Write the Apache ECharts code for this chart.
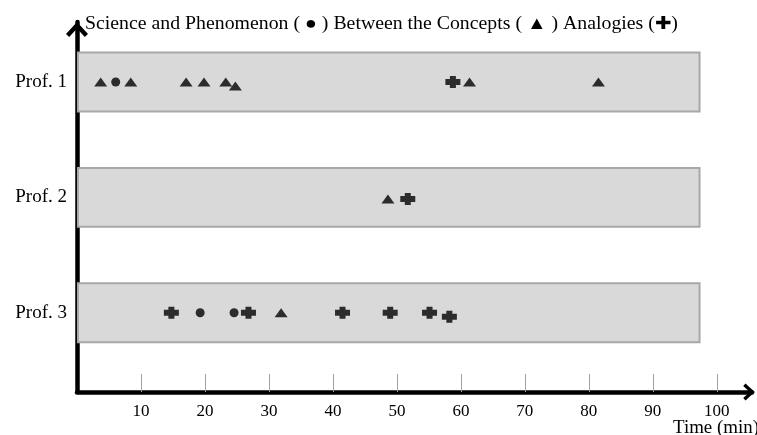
<!DOCTYPE html>
<html>
<head>
<meta charset="utf-8">
<script src="https://cdn.jsdelivr.net/npm/echarts@6/dist/echarts.min.js"></script>
<style>html,body{margin:0;padding:0;background:#fff}#c{width:757px;height:435px}</style>
</head>
<body>
<div id="c"></div>
<script>
// ---- data ----
const rows = ['Prof. 1', 'Prof. 2', 'Prof. 3'];
const rowValues = [3, 2, 1];
const sessionEnd = [97.3, 97.3, 97.3];
const xTicks = [10, 20, 30, 40, 50, 60, 70, 80, 90, 100];
// [time (min), professor, lane shift]
const science = [[6.05, 'Prof. 1', 0], [19.25, 'Prof. 3', 0], [24.55, 'Prof. 3', 0]];
const concepts = [[3.7, 'Prof. 1', 0], [8.4, 'Prof. 1', 0], [17.05, 'Prof. 1', 0], [19.85, 'Prof. 1', 0],
  [23.25, 'Prof. 1', 0], [24.75, 'Prof. 1', -0.035], [61.35, 'Prof. 1', 0], [81.5, 'Prof. 1', 0],
  [48.6, 'Prof. 2', -0.015], [31.9, 'Prof. 3', 0]];
const analogies = [[58.75, 'Prof. 1', 0], [51.7, 'Prof. 2', -0.015], [14.75, 'Prof. 3', 0], [26.8, 'Prof. 3', 0],
  [41.5, 'Prof. 3', 0], [48.95, 'Prof. 3', 0], [55.1, 'Prof. 3', 0], [58.2, 'Prof. 3', -0.035]];
const legendText = 'Science and Phenomenon ( \u25CF ) Between the Concepts ( \u25B2 ) Analogies (\u271A)';
const xName = 'Time (min)';

// ---- chart ----
const rowPos = {};
rows.forEach((r, i) => rowPos[r] = rowValues[i]);
const toPts = arr => arr.map(d => [d[0], rowPos[d[1]] + d[2]]);
const BAND_HALF = 0.255;
const serif = '"Liberation Serif", "DejaVu Serif", serif';
const plusPath = 'path://M4.5,0 H10.5 V3 H15 V9 H10.5 V12 H4.5 V9 H0 V3 H4.5 Z';
const chevron = 'path://M11,0 L22,12 L18.8,15 L11,6.5 L3.2,15 L0,12 Z';

const chart = echarts.init(document.getElementById('c'), null, {renderer: 'canvas'});
chart.setOption({
  animation: false,
  backgroundColor: '#fff',
  graphic: [
    {type: 'text', x: 85, y: 15, scaleX: 1.1, z: 10,
      style: {text: legendText, font: '18px ' + serif, fill: '#000', textVerticalAlign: 'top'}},
    {type: 'text', x: 673, y: 419, scaleX: 1.05, z: 10,
      style: {text: xName, font: '18px ' + serif, fill: '#000', textVerticalAlign: 'top'}}
  ],
  grid: {left: 77, right: 5, top: 22, bottom: 43},
  xAxis: {
    type: 'value', min: 0, max: 105.5,
    splitLine: {show: false},
    axisLine: {lineStyle: {color: '#000', width: 4.5}, symbol: ['none', chevron], symbolSize: [17, 14], symbolOffset: [0, -3]},
    axisTick: {show: true, inside: true, length: 18, customValues: xTicks, lineStyle: {color: '#a0a0a0', width: 1}},
    axisLabel: {customValues: xTicks, margin: 11, fontFamily: serif, fontSize: 17, color: '#000'}
  },
  yAxis: {
    type: 'value', min: 0.313, max: 3.52, offset: 2,
    splitLine: {show: false},
    axisLine: {show: true, lineStyle: {color: '#000', width: 4.5}, symbol: ['none', chevron], symbolSize: [22, 17], symbolOffset: [0, -7.5]},
    axisTick: {show: false},
    axisLabel: {
      customValues: rowValues, margin: 8, fontFamily: serif, fontSize: 19, color: '#000',
      formatter: v => rows[rowValues.indexOf(Math.round(v))] || ''
    }
  },
  series: [
    {
      type: 'scatter', data: [], silent: true, z: 1,
      markArea: {
        silent: true,
        itemStyle: {color: '#d9d9d9', borderColor: '#a8a8a8', borderWidth: 2},
        data: rows.map((r, i) => [{coord: [0.15, rowValues[i] + BAND_HALF]}, {coord: [sessionEnd[i], rowValues[i] - BAND_HALF]}])
      }
    },
    {name: 'Science and Phenomenon', type: 'scatter', z: 3, symbol: 'circle', symbolSize: [9, 9],
      itemStyle: {color: '#000'}, data: toPts(science)},
    {name: 'Between the Concepts', type: 'scatter', z: 3, symbol: 'triangle', symbolSize: [13, 9],
      itemStyle: {color: '#000'}, data: toPts(concepts)},
    {name: 'Analogies', type: 'scatter', z: 3, symbol: plusPath, symbolSize: [15, 12],
      itemStyle: {color: '#000'}, data: toPts(analogies)}
  ]
});
</script>
</body>
</html>
